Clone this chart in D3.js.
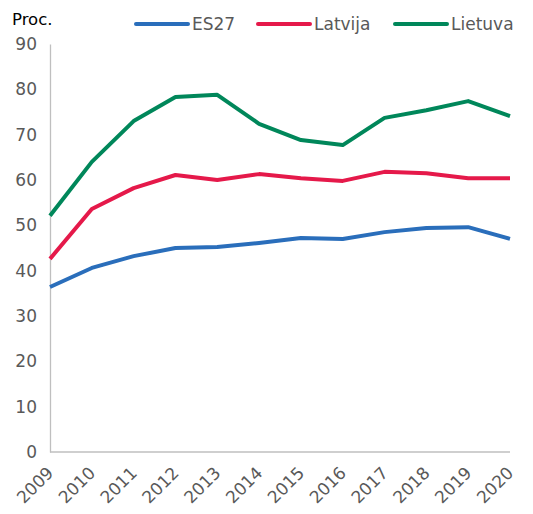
<!DOCTYPE html>
<html>
<head>
<meta charset="utf-8">
<script src="https://cdn.jsdelivr.net/npm/d3@7"></script>
<style>
  body { margin: 0; background: #fff; }
  svg text { font-family: "DejaVu Sans", Verdana, sans-serif; }
  .tick text { fill: #595959; font-size: 17px; }
</style>
</head>
<body>
<div class="graph"></div>
<script>
const years = ["2009","2010","2011","2012","2013","2014","2015","2016","2017","2018","2019","2020"];
const es27 = [36.4, 40.6, 43.2, 45.0, 45.2, 46.1, 47.2, 47.0, 48.5, 49.4, 49.6, 47.0];
const latvija = [42.6, 53.6, 58.2, 61.1, 60.0, 61.3, 60.4, 59.8, 61.8, 61.5, 60.4, 60.4];
const lietuva = [52.1, 64.0, 73.0, 78.3, 78.8, 72.4, 68.8, 67.7, 73.7, 75.4, 77.4, 74.1];
const seriesNames = ["ES27", "Latvija", "Lietuva"];
const colors = ["#2a6ebb", "#e5194a", "#00875a"];
const yTicks = [0, 10, 20, 30, 40, 50, 60, 70, 80, 90];

const w = 533, h = 514;
const series = [es27, latvija, lietuva];

const svg = d3.select(".graph").append("svg")
  .attr("width", w).attr("height", h);

const x = d3.scalePoint().domain(years).range([50, 510]);
const y = d3.scaleLinear().domain([0, 90]).range([452, 44]);

// y axis
const yAxis = svg.append("g")
  .attr("transform", "translate(50,0)")
  .call(d3.axisLeft(y).tickValues(yTicks).tickSize(0).tickPadding(13));
yAxis.select(".domain").attr("stroke", "#bfbfbf").attr("stroke-width", 1.3);

// x axis
const xAxis = svg.append("g")
  .attr("transform", "translate(0,452)")
  .call(d3.axisBottom(x).tickSize(0).tickPadding(0));
xAxis.select(".domain").attr("stroke", "#bfbfbf").attr("stroke-width", 1.3).attr("d", "M50,0H510");
xAxis.selectAll("text")
  .attr("text-anchor", "end")
  .attr("dy", "0")
  .style("font-size", "17px")
  .attr("transform", "translate(4,22) rotate(-45)");

// lines
const line = d3.line().x((d, i) => x(years[i])).y(d => y(d));
series.forEach((s, k) => {
  svg.append("path")
    .datum(s)
    .attr("fill", "none")
    .attr("stroke", colors[k])
    .attr("stroke-width", 4)
    .attr("stroke-linejoin", "round")
    .attr("d", line);
});

// unit label
svg.append("text")
  .attr("x", 12).attr("y", 25)
  .attr("font-size", 16.5)
  .attr("fill", "#000")
  .text("Proc.");

// legend
const legX = [136, 258, 395];
seriesNames.forEach((n, k) => {
  svg.append("line")
    .attr("x1", legX[k]).attr("x2", legX[k] + 52)
    .attr("y1", 24).attr("y2", 24)
    .attr("stroke", colors[k]).attr("stroke-width", 4)
    .attr("stroke-linecap", "round");
  svg.append("text")
    .attr("x", legX[k] + 56).attr("y", 30)
    .attr("font-size", 17)
    .attr("fill", "#595959")
    .text(n);
});
</script>
</body>
</html>
